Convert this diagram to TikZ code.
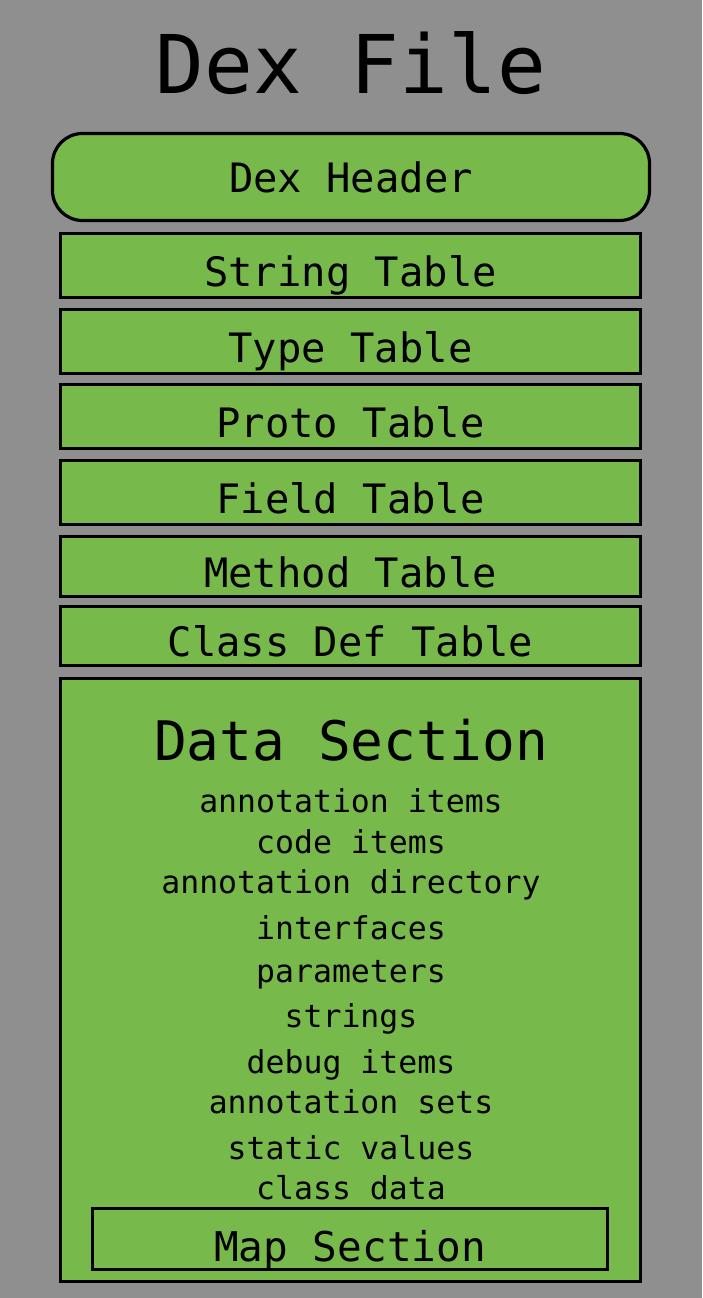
\documentclass[tikz,border=0pt]{standalone}
\usepackage{fontspec}
\setmonofont{DejaVu Sans Mono}
\newcommand{\dexfont}[1]{\ttfamily\fontsize{#1}{#1}\selectfont}
\definecolor{bggray}{HTML}{8F8F8F}
\definecolor{dexgreen}{HTML}{78B94B}

\begin{document}
\begin{tikzpicture}[x=1pt, y=-1pt,
    tablebox/.style={draw, fill=dexgreen, line width=3.2pt, minimum width=580pt, minimum height=64pt, inner sep=0pt, text height=41pt, text depth=0pt, font=\dexfont{40.5}},
    itemtext/.style={anchor=base, inner sep=0pt, font=\dexfont{31.5}}]
    % Draw background
    \fill[bggray] (0,0) rectangle (702,1298);
    \useasboundingbox (0,0) rectangle (702,1298);

    % Draw title
    \node[anchor=base, inner sep=0pt, font=\dexfont{81}] (title) at (351,93) {Dex File};

    % Draw header
    \node[tablebox, rounded corners=30pt, minimum width=597pt, minimum height=87pt, text height=30pt] (header) at (351,177) {Dex Header};

    % Draw tables
    \node[tablebox] (string) at (350.5,265.5) {String Table};
    \node[tablebox] (type) at (350.5,341.5) {Type Table};
    \node[tablebox] (proto) at (350.5,416.5) {Proto Table};
    \node[tablebox] (field) at (350.5,492.5) {Field Table};
    \node[tablebox, minimum height=60pt] (method) at (350.5,566.5) {Method Table};
    \node[tablebox, minimum height=59pt] (classdef) at (350.5,636) {Class Def Table};

    % Draw data section with its items
    \node[tablebox, minimum height=603pt] (data) at (350.5,980) {};
    \node[anchor=base, inner sep=0pt, font=\dexfont{54.5}] (datatitle) at (351,760) {Data Section};
    \foreach \name/\y [count=\i] in {annotation items/812, code items/853, annotation directory/893, interfaces/939, parameters/982, strings/1027, debug items/1073, annotation sets/1113, static values/1159, class data/1199}
        \node[itemtext] (item\i) at (351,\y) {\name};

    % Draw map section
    \node[tablebox, minimum width=515pt, minimum height=61pt, text height=44pt, font=\dexfont{41}] (map) at (350,1239) {Map Section};
\end{tikzpicture}
\end{document}
